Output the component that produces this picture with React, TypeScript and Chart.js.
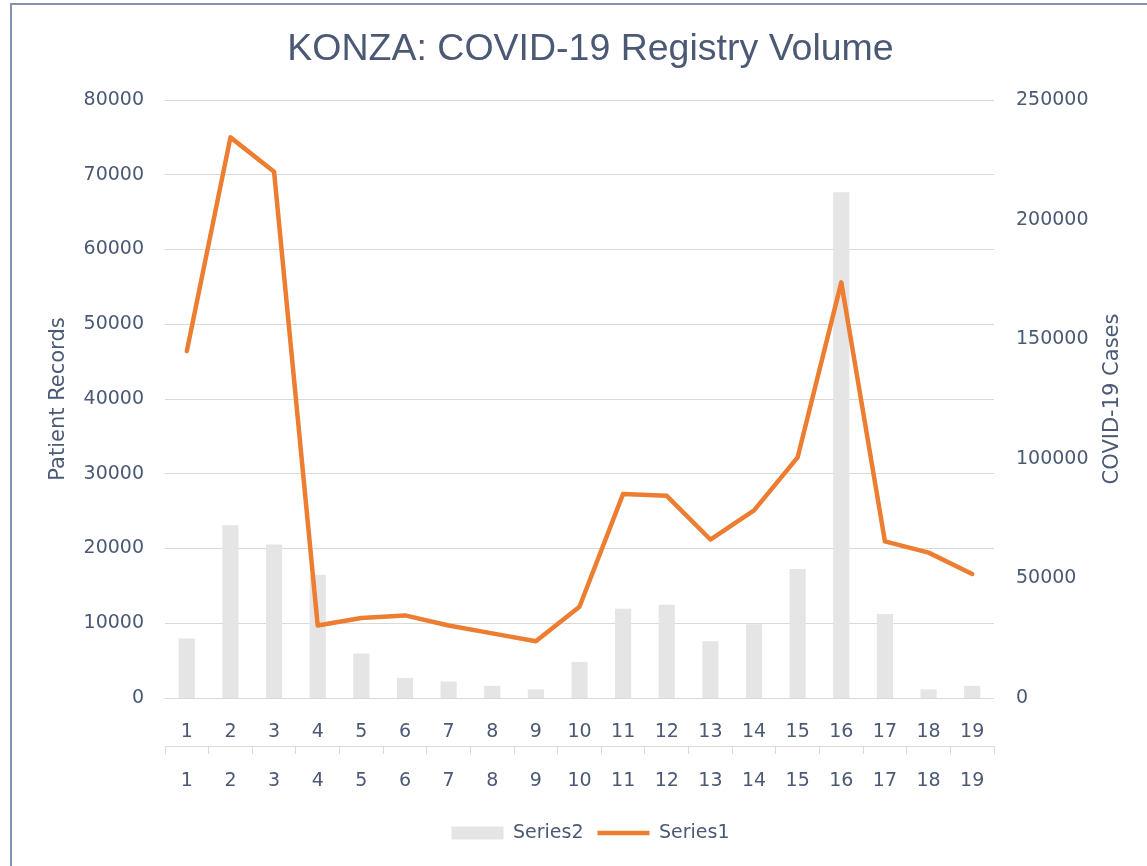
import React, { useEffect, useRef } from 'react';
import { Chart, registerables } from 'chart.js';

Chart.register(...registerables);

const categories = ['1', '2', '3', '4', '5', '6', '7', '8', '9', '10', '11', '12', '13', '14', '15', '16', '17', '18', '19'];
// Series1 (line) – Patient Records, left axis
const series1PatientRecords = [46400, 75000, 70400, 9700, 10700, 11050, 9700, 8650, 7600, 12200, 27300, 27050, 21200, 25100, 32200, 55600, 20950, 19450, 16600];
// Series2 (bars) – COVID-19 Cases, right axis
const series2CovidCases = [24900, 72200, 64200, 51500, 18600, 8400, 6900, 5100, 3600, 15100, 37300, 39000, 23700, 30800, 53900, 211400, 35100, 3600, 5100];

const chartTitle = 'KONZA: COVID-19 Registry Volume';
const leftAxisTitle = 'Patient Records';
const rightAxisTitle = 'COVID-19 Cases';

const TEXT = '#4b5975';
const GRID = '#d9d9d9';
const ORANGE = '#ED7D31';
const BAR = '#e5e5e5';
const FONT = 'DejaVu Sans';

const plainNumber = (v: any) => String(v);

const axisTitlesPlugin = {
  id: 'axisTitles',
  afterDraw(chart: any) {
    const { ctx, chartArea, scales } = chart;
    const cy = (chartArea.top + chartArea.bottom) / 2;
    ctx.save();
    ctx.font = `21px "${FONT}"`;
    ctx.fillStyle = TEXT;
    ctx.textAlign = 'center';
    ctx.textBaseline = 'middle';
    ctx.save();
    ctx.translate(scales.y.left + 25, cy);
    ctx.rotate(-Math.PI / 2);
    ctx.fillText(leftAxisTitle, 0, 0);
    ctx.restore();
    ctx.save();
    ctx.translate(scales.y1.left + 119, cy);
    ctx.rotate(-Math.PI / 2);
    ctx.fillText(rightAxisTitle, 0, 0);
    ctx.restore();
    ctx.restore();
  },
};

export default function App() {
  const canvasRef = useRef<HTMLCanvasElement | null>(null);

  useEffect(() => {
    if (!canvasRef.current) return;
    Chart.defaults.font.family = FONT;
    const chart = new Chart(canvasRef.current, {
      type: 'bar',
      data: {
        labels: categories,
        datasets: [
          {
            type: 'bar',
            label: 'Series2',
            data: series2CovidCases,
            backgroundColor: BAR,
            borderWidth: 0,
            yAxisID: 'y1',
            xAxisID: 'x',
            barPercentage: 0.37,
            categoryPercentage: 1.0,
            pointStyle: 'rect',
            order: 1,
          } as any,
          {
            type: 'line',
            label: 'Series1',
            data: series1PatientRecords,
            borderColor: ORANGE,
            backgroundColor: ORANGE,
            borderWidth: 4.5,
            pointRadius: 0,
            pointHoverRadius: 0,
            pointBorderWidth: 4.5,
            pointBorderColor: ORANGE,
            pointStyle: 'line',
            tension: 0,
            borderCapStyle: 'round',
            borderJoinStyle: 'round',
            yAxisID: 'y',
            xAxisID: 'x',
            order: 0,
          } as any,
        ],
      },
      options: {
        animation: false,
        responsive: true,
        maintainAspectRatio: false,
        events: [],
        layout: { padding: { left: 34, right: 0, top: 0, bottom: 13.5 } },
        plugins: {
          title: {
            display: true,
            text: chartTitle,
            color: TEXT,
            font: { family: 'Liberation Sans', size: 37.5, weight: 'normal' },
            padding: { top: 27, bottom: 28 },
          },
          legend: {
            display: true,
            position: 'bottom',
            labels: {
              usePointStyle: true,
              pointStyleWidth: 52,
              boxHeight: 13,
              padding: 14,
              color: TEXT,
              font: { family: FONT, size: 19 },
              sort: (a: any, b: any) => a.datasetIndex - b.datasetIndex,
            },
          },
          tooltip: { enabled: false },
        },
        scales: {
          x: {
            type: 'category',
            position: 'bottom',
            offset: true,
            grid: { display: false, drawTicks: false },
            border: { display: false },
            ticks: { color: TEXT, font: { family: FONT, size: 19 }, padding: 23, maxRotation: 0, autoSkip: false },
            afterFit: (s: any) => { s.height = 48; },
          },
          x2: {
            type: 'category',
            position: 'bottom',
            offset: true,
            grid: { display: true, drawOnChartArea: false, drawTicks: true, tickLength: 8, offset: true, color: GRID, lineWidth: 1 },
            border: { display: true, color: GRID, width: 1 },
            ticks: { color: TEXT, font: { family: FONT, size: 19 }, padding: 15.3, maxRotation: 0, autoSkip: false },
            afterFit: (s: any) => { s.height = 63.5; },
          },
          y: {
            type: 'linear',
            position: 'left',
            min: 0,
            max: 80000,
            ticks: { stepSize: 10000, color: TEXT, font: { family: FONT, size: 19 }, padding: 21, callback: plainNumber },
            grid: { color: GRID, lineWidth: 1, drawTicks: false },
            border: { display: false },
            afterFit: (s: any) => { s.width = 131; },
          },
          y1: {
            type: 'linear',
            position: 'right',
            min: 0,
            max: 250000,
            ticks: { stepSize: 50000, color: TEXT, font: { family: FONT, size: 19 }, padding: 22, callback: plainNumber },
            grid: { display: false, drawOnChartArea: false, drawTicks: false },
            border: { display: false },
            afterFit: (s: any) => { s.width = 153; },
          },
        },
      },
      plugins: [axisTitlesPlugin],
    });
    return () => chart.destroy();
  }, []);

  return (
    <>
      <div
        style={{
          position: 'fixed',
          left: 10,
          top: 3,
          width: 1400,
          height: 1100,
          borderLeft: '2px solid #8393ad',
          borderTop: '2px solid #8393ad',
          pointerEvents: 'none',
          boxSizing: 'border-box',
        }}
      />
      <div style={{ position: 'fixed', left: 0, top: 0, width: 1147, height: 866 }}>
        <canvas ref={canvasRef} />
      </div>
    </>
  );
}
